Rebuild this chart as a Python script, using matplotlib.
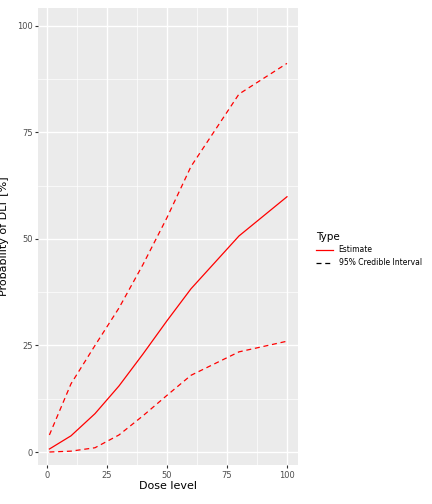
import matplotlib
matplotlib.use("Agg")
import matplotlib.pyplot as plt
from matplotlib.lines import Line2D

dose = [1, 10, 20, 30, 40, 50, 60, 80, 100]
estimate = [0.7, 3.8, 9.0, 15.5, 23.0, 30.8, 38.3, 50.7, 59.9]
upper = [4.0, 16.0, 25.0, 33.8, 44.0, 55.0, 67.0, 84.0, 91.2]
lower = [0.0, 0.2, 1.0, 4.0, 8.5, 13.3, 18.0, 23.5, 26.0]

fig = plt.figure(figsize=(4.32, 5.04), dpi=100)
ax = fig.add_axes([38 / 432, 1 - 465 / 504, 260 / 432, 457 / 504])
ax.set_facecolor("#EBEBEB")
for s in ax.spines.values():
    s.set_visible(False)

ax.set_xlim(-3.75, 104.6)
ax.set_ylim(-3.05, 104.2)
ax.set_xticks([0, 25, 50, 75, 100])
ax.set_yticks([0, 25, 50, 75, 100])
ax.set_xticks([12.5, 37.5, 62.5, 87.5], minor=True)
ax.set_yticks([12.5, 37.5, 62.5, 87.5], minor=True)
ax.grid(which="major", color="white", lw=1.0)
ax.grid(which="minor", color="white", lw=0.5)
ax.set_axisbelow(True)
ax.tick_params(which="major", labelsize=6, colors="#4D4D4D", length=2.5,
               color="#333333", pad=1.5)
ax.tick_params(which="minor", length=0)

ax.plot(dose, estimate, color="red", lw=0.9)
ax.plot(dose, upper, color="red", lw=0.9, ls=(0, (4, 3)))
ax.plot(dose, lower, color="red", lw=0.9, ls=(0, (4, 3)))

ax.set_xlabel("Dose level", fontsize=8, labelpad=1)
ax.set_ylabel("Probability of DLT [%]", fontsize=8)
ax.yaxis.set_label_coords(-0.11, 0.5)

handles = [Line2D([], [], color="red", lw=0.9),
           Line2D([], [], color="black", lw=0.9, ls=(0, (4, 3)))]
leg = fig.legend(handles, ["Estimate", "95% Credible Interval"], title="Type",
                 loc="center left", bbox_to_anchor=(0.715, 0.505), frameon=False,
                 fontsize=5.5, title_fontsize=7.5, handlelength=2.2)
leg._legend_box.align = "left"

fig.savefig("out.png", dpi=100)
